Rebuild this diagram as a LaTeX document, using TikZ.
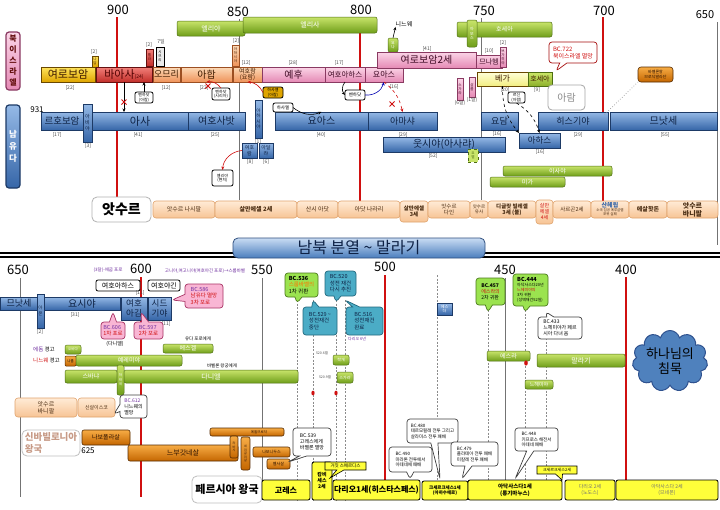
\documentclass[tikz,border=0pt]{standalone}
\usepackage{fontspec}
\setmainfont{Noto Sans CJK KR}
\usetikzlibrary{arrows.meta,shapes.callouts,shapes.symbols,shapes.geometric}
\definecolor{jbA}{HTML}{95B9E6}\definecolor{jbB}{HTML}{3666A8}\definecolor{jbD}{HTML}{1D3A66}\definecolor{jbT}{HTML}{0E2244}
\definecolor{pkA}{HTML}{FBD5E7}\definecolor{pkB}{HTML}{E58AB5}\definecolor{pkD}{HTML}{8A3A62}\definecolor{pkT}{HTML}{3E0A24}
\definecolor{orA}{HTML}{FCDAB8}\definecolor{orB}{HTML}{EF935A}\definecolor{orD}{HTML}{9C4F22}\definecolor{orT}{HTML}{3F1C00}
\definecolor{gdA}{HTML}{FFE45C}\definecolor{gdB}{HTML}{DFA500}\definecolor{gdD}{HTML}{6A4800}
\definecolor{rdA}{HTML}{F2807A}\definecolor{rdB}{HTML}{C22F2A}\definecolor{rdD}{HTML}{651010}\definecolor{rdT}{HTML}{4E0000}
\definecolor{grA}{HTML}{C8E46A}\definecolor{grB}{HTML}{6F9E1A}\definecolor{grD}{HTML}{4E6E12}
\definecolor{asA}{HTML}{FFEBD6}\definecolor{asB}{HTML}{F7C495}\definecolor{asD}{HTML}{E0A36C}\definecolor{asT}{HTML}{4B2E14}
\definecolor{pyel}{HTML}{FFFF3A}
\definecolor{bbA}{HTML}{F7AC45}\definecolor{bbB}{HTML}{C46600}\definecolor{bbD}{HTML}{552A00}\definecolor{bbT}{HTML}{2A1000}
\definecolor{pyA}{HTML}{FFFFD8}\definecolor{pyB}{HTML}{F2EE82}
\definecolor{lmA}{HTML}{CDE86A}\definecolor{lmB}{HTML}{8CB02A}
\definecolor{cyF}{HTML}{4BACC6}\definecolor{cyD}{HTML}{23697E}
\definecolor{lgF}{HTML}{9BE34F}\definecolor{lgD}{HTML}{4C7A1C}
\definecolor{pcF}{HTML}{F9B6D4}\definecolor{pcD}{HTML}{A83264}
\definecolor{bnA}{HTML}{C9DCF3}\definecolor{bnB}{HTML}{4A7DBD}\definecolor{bnD}{HTML}{2E4E7E}\definecolor{bnT}{HTML}{0E2246}
\definecolor{redL}{HTML}{D01010}\definecolor{purp}{HTML}{7030A0}
\definecolor{cloudF}{HTML}{4F81BD}\definecolor{cloudD}{HTML}{2F528F}
\definecolor{nbT}{HTML}{C79A86}
\tikzset{
 fs/.style 2 args={font=\fontsize{#1}{#2}\selectfont},
 fsb/.style 2 args={font=\fontsize{#1}{#2}\selectfont\bfseries},
 base/.style={inner sep=0pt,outer sep=0pt,align=center},
 judah/.style={base,draw=jbD,line width=0.6pt,top color=jbA,bottom color=jbB,text=jbT},
 isr/.style={base,draw=pkD,line width=0.6pt,top color=pkA,bottom color=pkB,text=pkT},
 orng/.style={base,draw=orD,line width=0.6pt,top color=orA,bottom color=orB,text=orT},
 goldb/.style={base,draw=gdD,line width=0.6pt,top color=gdA,bottom color=gdB,text=orT},
 redb/.style={base,draw=rdD,line width=0.6pt,top color=rdA,bottom color=rdB,text=rdT},
 paley/.style={base,draw=gdD,line width=0.6pt,top color=pyA,bottom color=pyB,text=orT},
 lime/.style={base,draw=grD,line width=0.6pt,top color=lmA,bottom color=lmB,text=orT},
 prop/.style={base,draw=grD,line width=0.5pt,rounded corners=2pt,top color=grA,bottom color=grB,text=white},
 assy/.style={base,draw=asD,line width=0.6pt,rounded corners=3pt,top color=asA,bottom color=asB,text=asT},
 pers/.style={base,draw=black,line width=0.8pt,rounded corners=2pt,fill=pyel,text=black},
 babo/.style={base,draw=bbD,line width=0.6pt,rounded corners=2pt,top color=bbA,bottom color=bbB,text=bbT},
 wbox/.style={base,draw=black,line width=0.8pt,rounded corners=2pt,fill=white,text=black},
 call/.style={base,rectangle callout,rounded corners=3pt,line width=0.7pt,align=left},
 wcall/.style={call,draw=black!75,fill=white,text=black},
 gcall/.style={call,draw=lgD,fill=lgF,text=black},
 ccall/.style={call,draw=cyD,fill=cyF,text=jbT},
 pcall/.style={call,draw=pcD,fill=pcF,text=redL},
 ptr/.style={callout absolute pointer={#1}},
 num/.style={inner sep=0pt,fs={5}{5},text=black!70},
 yr/.style={inner sep=0pt,fs={13}{13},text=black},
 redln/.style={draw=redL,line width=1.3pt},
 grayln/.style={draw=black!55,line width=0.6pt},
 dashln/.style={draw=black!45,line width=0.5pt,dash pattern=on 2pt off 1.5pt},
 arr/.style={-{Stealth[length=3.5pt,width=3pt]},line width=0.6pt},
}
\newcommand\kb[7]{\node[#6,minimum width={(#4-#2)*1pt},minimum height={(#5-#3)*1pt}] (#1) at ({(#2+#4)/2},{(#3+#5)/2}) {#7};}
\newcommand\redx[2]{\draw[redL,line width=1pt] (#1-2.5,#2-2.5) -- (#1+2.5,#2+2.5) (#1-2.5,#2+2.5) -- (#1+2.5,#2-2.5);}
\begin{document}
\begin{tikzpicture}[x=1pt,y=-1pt]
\useasboundingbox (0,0) rectangle (720,509);
\fill[white] (0,0) rectangle (720,509);
% ---------------- top timeline ----------------
\node[yr] (t900) at (118,10) {900};
\node[yr] (t850) at (238,12) {850};
\node[yr] (t800) at (361,10) {800};
\node[yr] (t750) at (484,11) {750};
\node[yr] (t700) at (604,11) {700};
\node[yr,fs={11}{11}] (t650) at (705,15) {650};
\draw[redln] (117,17) -- (117,222);
\draw[grayln] (239,19) -- (239,200);
\draw[redln] (360,17) -- (360,202);
\draw[grayln] (481,18) -- (481,200);
\draw[redln,line width=2.2pt] (603,17) -- (603,205);
\draw[grayln] (717,22) -- (717,245);
\kb{nisr}{6}{32}{20}{90}{base,draw=pkD,line width=1.2pt,rounded corners=3pt,top color=pkA,bottom color=pkB,text=rdD,fsb={8}{11}}{북\\이\\스\\라\\엘}
\kb{sjud}{6}{105}{20}{188}{judah,line width=1.2pt,rounded corners=3pt,text=white,fsb={8.5}{12}}{남\\유\\다}
\node[inner sep=0pt,fs={8}{8}] (y931) at (37,110) {931};
% prophets (top)
\kb{elijah}{177}{21}{245}{36}{prop,fs={7}{7}}{엘리야}
\kb{elisha}{243}{17}{377}{33}{prop,fs={7}{7}}{엘리사}
\kb{jonah}{388}{38}{398}{52}{prop,fs={4}{4.5}}{요\\나}
\node[inner sep=0pt,fs={6}{6}] (nineveh) at (404,24) {니느웨};
\draw[arr] (jonah.north) -- (nineveh.south west);
\kb{hosea}{457}{22}{552}{37}{prop,fs={6}{6}}{호세아}
\kb{amos}{467}{20}{477}{47}{prop,fs={4}{4.5}}{아\\모\\스}
% Israel kings
\kb{nadab}{92}{56}{98}{67}{goldb,fs={3.5}{4}}{나\\답}
\kb{elah}{146}{49}{153}{66}{redb,fs={3.5}{4}}{엘\\라}
\kb{zimri}{156}{47}{164}{66}{base,draw=black,line width=0.6pt,fill=black!8,fs={3.5}{4}}{시\\므\\리}
\kb{ahaziahI}{232}{45}{239}{66}{orng,fs={3.5}{4}}{아\\하\\시\\야}
\kb{jeroboam}{41}{67}{95}{82}{goldb,fs={11}{11}}{여로보암}
\kb{baasha}{96}{67}{152}{82}{redb,fs={11}{11}}{바아사{\fontsize{5}{5}\selectfont(24)}}
\kb{omri}{153}{67}{180}{82}{orng,fs={9}{9}}{오므리}
\kb{ahab}{181}{67}{232}{82}{orng,fs={10}{10}}{아합}
\kb{joram}{233}{67}{262}{82}{orng,fs={6}{6.5}}{여호람\\(요람)}
\kb{jehu}{262}{67}{325}{82}{isr,fs={10}{10}}{예후}
\kb{jehoahazI}{325}{67}{365}{82}{isr,fs={7.5}{7.5}}{여호아하스}
\kb{joashI}{365}{67}{403}{82}{isr,fs={8}{8}}{요아스}
\kb{jeroboamII}{377}{52}{476}{68}{isr,fs={10}{10}}{여로보암2세}
\kb{menahem}{476}{55}{502}{68}{isr,fs={7}{7}}{므나헴}
\kb{zechariah}{457}{78}{463}{100}{isr,fs={3.5}{4}}{스\\가\\랴}
\kb{shallum}{469}{77}{475}{97}{isr,fs={3.5}{4}}{살\\룸}
\kb{pekahiah}{500}{47}{506}{67}{isr,fs={3.5}{4}}{브\\가\\히\\야}
\kb{pekah}{477}{72}{528}{86}{paley,fs={8}{8}}{베가}
\kb{hoshea}{528}{72}{552}{86}{lime,fs={7}{7}}{호세아}
\node[num] (n1) at (94,52) {[2]};
\node[num] (n2) at (149,45) {[2]};
\node[num] (n3) at (161,42) {7일};
\node[num] (n4) at (236,41) {[2]};
\node[num] (n5) at (70,88) {[22]};
\node[num] (n6) at (166,88) {[12]};
\node[num] (n7) at (204,88) {[22]};
\node[num] (n8) at (246,63) {[12]};
\node[num] (n9) at (293,63) {[28]};
\node[num] (n10) at (339,63) {[17]};
\node[num] (n11) at (394,87) {[16]};
\node[num] (n12) at (427,49) {[41]};
\node[num] (n13) at (489,51) {[10]};
\node[num] (n14) at (503,43) {[2]};
\node[num] (n15) at (505,90) {[20]};
\node[num] (n16) at (537,90) {[9]};
\node[num] (n17) at (460,103) {(6달)};
\node[num] (n18) at (472,100) {(1달)};
% Judah kings
\kb{abijah}{83}{104}{92}{142}{judah,fs={5}{6}}{아\\비\\야}
\kb{rehoboam}{41}{112}{83}{130}{judah,fs={9.5}{9.5}}{르호보암}
\kb{asa}{92}{112}{188}{130}{judah,fs={11}{11}}{아사}
\kb{jehoshaphat}{188}{112}{245}{130}{judah,fs={10}{10}}{여호사밧}
\kb{ahaziahJ}{255}{100}{262}{138}{judah,fs={4.5}{5.5}}{아\\하\\시\\야}
\kb{jehoramJ}{242}{143}{257}{158}{judah,fs={5}{5.5}}{여호\\람}
\kb{athaliah}{259}{143}{273}{158}{judah,fs={5}{5.5}}{아달\\랴}
\kb{joashJ}{275}{112}{368}{130}{judah,fs={10}{10}}{요아스}
\kb{amaziah}{368}{112}{437}{130}{judah,fs={9}{9}}{아마샤}
\kb{uzziah}{383}{137}{505}{152}{judah,fs={10}{10}}{웃시야(아사랴)}
\kb{jotham}{481}{112}{518}{130}{judah,fs={9}{9}}{요담}
\kb{ahaz}{519}{133}{560}{148}{judah,fs={8.5}{8.5}}{아하스}
\kb{hezekiah}{538}{112}{608}{130}{judah,fs={9}{9}}{히스기야}
\kb{manassehT}{610}{112}{717}{130}{judah,fs={10}{10}}{므낫세}
\node[num] (m1) at (57,135) {[17]};
\node[num] (m2) at (88,146) {[3]};
\node[num] (m3) at (138,135) {[41]};
\node[num] (m4) at (215,135) {[25]};
\node[num] (m5) at (250,162) {[8]};
\node[num] (m6) at (266,162) {[6]};
\node[num] (m7) at (258,142) {[1]};
\node[num] (m8) at (321,135) {[40]};
\node[num] (m9) at (403,135) {[29]};
\node[num] (m10) at (433,156) {[52]};
\node[num] (m11) at (497,134) {[16]};
\node[num] (m12) at (540,152) {[16]};
\node[num] (m13) at (578,135) {[29]};
\node[num] (m14) at (665,135) {[55]};
% other prophets top
\kb{joel}{468}{149}{478}{162}{base,draw=grD,dashed,line width=0.6pt,fill=grA,fs={3.5}{4},text=grD}{요\\엘}
\kb{isaiah}{503}{166}{612}{176}{prop,fs={6}{6}}{이사야}
\kb{micah}{490}{177}{565}{187}{prop,fs={6}{6}}{미가}
% small boxes and relations
\kb{benA}{135}{92}{153}{103}{wbox,fs={4}{4.5}}{벤하닷\\(아람)}
\kb{benB}{212}{88}{230}{100}{wbox,fs={4}{4.5}}{벤하닷\\(시리아)}
\kb{benC}{345}{90}{365}{100}{wbox,fs={4.5}{5}}{벤하닷}
\kb{hazael}{273}{103}{293}{112}{wbox,fs={4.5}{5}}{하사엘}
\kb{hazaelY}{263}{87}{283}{98}{base,draw=black,line width=0.8pt,rounded corners=2pt,fill=gdB,fs={4}{4.5}}{하사엘\\(아람)}
\kb{rezin}{508}{92}{525}{103}{wbox,fs={4}{4.5}}{르신\\(아람)}
\kb{elletter}{212}{170}{233}{186}{wbox,fs={4}{4.5}}{엘리야\\(편지)}
\draw[arr] (baasha.south) -- (baasha.south |- asa.north);
\redx{124}{102}
\draw[arr] (benA.north) -- (benA.north |- baasha.south);
\draw[arr,redL] (benB.north) to[bend right=30] (ahab.south);
\redx{208}{86}
\draw[arr,redL] (jehoramJ.west) to[bend right=40] (elletter.north);
\draw[arr] (jehoahazI.south) to[bend right=40] (benC.west);
\draw[arr,blue!70!black] (benC.east) to[bend right=40] (joashI.south);
\draw[arr,redL,dashed] (joashI.south) to[bend left=20] (amaziah.north);
\redx{392}{104}
\draw[arr,redL] (hazaelY.west) to[bend right=30] (joram.south);
\draw[arr] (hazael.east) to[bend right=30] (joashJ.north);
\draw[arr,dashed] (pekah.south) to[bend right=20] (ahaz.north west);
\draw[arr,dashed] (rezin.south) to[bend left=20] (ahaz.north);
\kb{bc722}{549}{42}{597}{63}{call,ptr={(556,71)},draw=redL!80!black,fill=white,text=redL,fs={6}{7}}{BC.722\\북이스라엘 멸망}
\kb{aram}{548}{85}{585}{110}{base,draw=black!35,line width=0.8pt,rounded corners=4pt,fill=white,text=black!45,fs={10}{10}}{\itshape 아람}
\kb{merodach}{638}{67}{673}{82}{babo,rounded corners=3pt,fs={4}{4.5}}{바벨론왕\\므로닥발라단}
\draw[black!40,dotted,line width=0.7pt] (merodach.south west) -- (604,115);
% Assyria
\kb{assyria}{92}{197}{151}{222}{base,draw=black!30,line width=0.8pt,rounded corners=5pt,fill=white,text=black,fsb={14}{14}}{앗수르}
\kb{a1}{153}{201}{215}{218}{assy,fs={6}{6}}{앗수르 나시팔}
\kb{a2}{215}{201}{297}{218}{assy,fsb={6}{6}}{살만에셀 2세}
\kb{a3}{297}{201}{338}{218}{assy,fs={6}{6}}{산시 아닷}
\kb{a4}{338}{201}{400}{218}{assy,fs={6}{6}}{아닷 나라리}
\kb{a5}{400}{201}{428}{222}{assy,fsb={5.5}{6.5}}{살만에셀\\3세}
\kb{a6}{428}{201}{470}{218}{assy,fs={5.5}{6.5}}{앗수르\\다인}
\kb{a7}{470}{201}{488}{218}{assy,fs={4.5}{5.5}}{앗수르\\유사}
\kb{a8}{488}{201}{536}{218}{assy,fsb={5.5}{6.5}}{디글랏 빌레셀\\3세 (불)}
\kb{a9}{536}{200}{553}{224}{assy,fs={5}{6},text=redL}{살만\\에셀\\4세}
\kb{a10}{553}{201}{591}{218}{assy,fs={5.5}{6}}{사르곤2세}
\kb{a11}{591}{201}{629}{218}{assy,fs={3.5}{4}}{{\fontsize{6}{7}\selectfont\bfseries\color{jbB}산헤립}\\소국 침공 예루살렘\\포위 실패}
\kb{a12}{629}{201}{667}{218}{assy,fsb={6}{6}}{에살핫돈}
\kb{a13}{667}{201}{718}{218}{assy,fsb={7}{8}}{앗수르\\바니팔}
% divider + banner
\draw[line width=1.6pt] (0,253) -- (720,253);
\draw[line width=1.2pt] (0,257) -- (720,257);
\kb{banner}{233}{238}{485}{258}{base,draw=bnD,line width=0.8pt,rounded corners=5pt,top color=bnA,bottom color=bnB,text=bnT,fs={16}{16}}{남북 분열 \textasciitilde{} 말라기}
% ---------------- bottom timeline ----------------
\node[yr] (b650) at (18,270) {650};
\node[yr] (b600) at (141,269) {600};
\node[yr] (b550) at (262,270) {550};
\node[yr] (b500) at (385,267) {500};
\node[yr] (b450) at (505,270) {450};
\node[yr] (b400) at (626,270) {400};
\draw[grayln] (20,278) -- (20,497);
\draw[redln] (141,277) -- (141,497);
\draw[grayln] (262,278) -- (262,500);
\draw[redln] (385,275) -- (385,500);
\draw[grayln] (505,278) -- (505,500);
\draw[redln] (626,277) -- (626,498);
\draw[dashln] (297,300) -- (297,500);
\draw[dashln] (313,300) -- (313,500);
\draw[dashln] (336,300) -- (336,500);
\draw[dashln] (345,300) -- (345,500);
\draw[dashln] (437,275) -- (437,500);
\draw[dashln] (488,310) -- (488,500);
\draw[dashln] (525,310) -- (525,500);
\draw[dashln] (546,338) -- (546,500);
\node[inner sep=0pt,fs={4.5}{4.5},text=purp] (tx1) at (108,270) {(3달)-애굽 포로};
\node[inner sep=0pt,fs={4.5}{4.5},text=purp] (tx2) at (205,271) {고니야,여고니야(여호야긴 포로)→스룹바벨};
% Judah (bottom)
\kb{manassehB}{0}{297}{38}{310}{judah,fs={9}{9}}{므낫세}
\kb{amon}{37}{294}{44}{328}{judah,fs={4.5}{6}}{아\\몬}
\kb{josiah}{44}{297}{120}{310}{judah,fs={10}{10}}{요시야}
\kb{jehoiakim}{121}{297}{147}{320}{judah,fs={8.5}{9.5}}{여호\\아김}
\kb{zedekiah}{148}{297}{171}{320}{judah,fs={8.5}{9.5}}{시드\\기야}
\kb{jehoahazJ}{96}{280}{140}{291}{wbox,fs={7}{7}}{여호아하스}
\kb{jehoiachin}{148}{280}{180}{291}{wbox,fs={7}{7}}{여호야긴}
\node[num] (k1) at (75,315) {[31]};
\node[num] (k2) at (40,332) {[2]};
\node[num] (k3) at (140,293) {[11]};
\node[num] (k4) at (166,324) {[11]};
\kb{bcsixeightsix}{185}{284}{223}{308}{pcall,ptr={(172,300)},fs={5.5}{6.5}}{{\color{purp}BC.586}\\남유다 멸망\\3차 포로}
\kb{bcsixosix}{101}{322}{125}{339}{pcall,ptr={(113,312)},fs={5.5}{6.5}}{{\color{purp}BC.606}\\1차 포로}
\kb{bcfivenine}{134}{322}{163}{339}{pcall,ptr={(141,312)},fs={5.5}{6.5}}{{\color{purp}BC.597}\\2차 포로}
\node[inner sep=0pt,fs={5}{5}] (dan) at (115,344) {(다니엘)};
\node[inner sep=0pt,fs={5.5}{5.5},anchor=west] (edom) at (33,349) {{\color{purp}에돔} 경고};
\node[inner sep=0pt,fs={5.5}{5.5},anchor=west,text=redL] (ninw) at (33,360) {니느웨 {\color{black}경고}};
% prophets (bottom)
\kb{obadiah}{65}{345}{81}{354}{prop,fs={3.5}{4}}{오바댜}
\kb{nahum}{65}{356}{76}{366}{base,draw=bbD,line width=0.5pt,rounded corners=1pt,top color=bbA,bottom color=bbB,fs={3.5}{4}}{나훔}
\kb{jeremiah}{76}{355}{182}{366}{prop,fs={6}{6}}{예레미야}
\kb{ezekiel}{163}{344}{213}{353}{prop,fs={6}{6}}{에스겔}
\kb{zephaniah}{65}{370}{117}{383}{prop,fs={6}{6}}{스바냐}
\kb{habakkuk}{117}{365}{124}{395}{prop,fs={3.5}{4.5}}{하\\박\\국}
\kb{daniel}{124}{370}{298}{383}{prop,fs={7}{7}}{다니엘}
\kb{haggai}{333}{355}{349}{365}{prop,fs={4}{4}}{학개}
\kb{zechP}{337}{372}{353}{383}{prop,fs={4}{4}}{스가랴}
\kb{ezra}{487}{351}{530}{361}{prop,fs={6}{6}}{에스라}
\kb{malachi}{537}{354}{625}{367}{prop,fs={7}{7}}{말라기}
\kb{nehemiah}{525}{380}{553}{389}{prop,fs={5}{5}}{느헤미야}
\node[inner sep=0pt,fs={4.5}{4.5}] (ex1) at (198,339) {유다 포로에게};
\node[inner sep=0pt,fs={4.5}{4.5}] (ex2) at (222,366) {바벨론 왕궁에게};
\node[inner sep=0pt,fs={3.5}{3.5},text=black!70] (ex3) at (322,353) {520.6월};
\node[inner sep=0pt,fs={3.5}{3.5},text=black!70] (ex4) at (325,377) {520.9월};
\fill[redL] (313,393) ellipse (1.6pt and 2.4pt);
\fill[redL] (336,393) ellipse (1.6pt and 2.4pt);
\fill[redL] (526,363) ellipse (1.8pt and 2.6pt);
% callouts (bottom)
\kb{bcfivethreesix}{285}{273}{318}{297}{gcall,ptr={(297,303)},fs={5.5}{6.5}}{\textbf{BC.536}\\{\color{orange!90!red}스룹바벨의}\\1차 귀환}
\kb{bcfivetwenty}{325}{271}{356}{296}{ccall,ptr={(336,302)},fs={5.5}{6.5}}{BC.520\\성전 재건\\다시 추진}
\kb{bcfivetwonine}{303}{307}{337}{335}{ccall,ptr={(313,300)},fs={5.5}{6.5}}{BC.529 \textasciitilde\\성전재건\\중단}
\kb{bcfiveonesix}{346}{307}{383}{335}{ccall,ptr={(345,300)},fs={5.5}{6.5}}{BC.516\\성전재건\\완료}
\node[inner sep=0pt,fs={4}{4.5},text=purp,align=left,anchor=north west] (dar6) at (348,337) {다리오 6년};
\kb{esther}{437}{303}{452}{315}{judah,fs={4}{4.5},text=white}{에스\\더}
\kb{bcfourfiveseven}{476}{278}{505}{305}{gcall,ptr={(488,312)},fs={5}{6}}{\textbf{BC.457}\\{\color{redL}에스라의}\\2차 귀환}
\kb{bcfourfourfour}{513}{274}{548}{306}{gcall,ptr={(525,312)},fs={4}{5}}{{\fontsize{5.5}{6}\selectfont\bfseries BC.444}\\아닥사스다20년\\{\color{redL}느헤미야의}\\3차 귀환\\(성벽재건52일)}
\kb{bcfourthreethree}{538}{317}{582}{339}{wcall,ptr={(546,312)},fs={5}{6}}{BC.433\\느헤미야가 페르\\시아 다녀 옴}
\node[cloud,cloud puffs=11,aspect=1.4,draw=cloudD,line width=1pt,fill=cloudF,minimum width=72pt,minimum height=50pt,inner sep=0pt,align=center,text=black,fs={13}{15}] (silence) at (670,361) {하나님의\\침묵};
% bottom-left empires
\kb{ashurb}{15}{398}{77}{417}{assy,fs={6}{7}}{앗수르\\바니팔}
\kb{sinshar}{78}{398}{115}{417}{assy,fs={5}{5}}{신살이스코}
\kb{bcsixtwelve}{120}{395}{147}{418}{wcall,ptr={(114,414)},fs={5}{6}}{{\color{purp}BC.612}\\니느웨의\\멸망}
\kb{neobab}{22}{430}{80}{456}{base,draw=black!25,line width=0.8pt,rounded corners=5pt,fill=white,text=nbT,align=left,fsb={9.5}{12}}{신바빌로니아\\왕국}
\node[inner sep=0pt,fs={8}{8}] (y625) at (88,451) {625};
\kb{nabopolassar}{82}{430}{130}{445}{babo,fs={6}{6}}{나보폴라살}
\kb{nebuchad}{128}{445}{238}{461}{babo,fs={7}{7}}{느부갓네살}
\kb{evilm}{210}{428}{284}{436}{babo,fs={3.5}{3.5}}{\hspace{24pt}에윌므로닥}
\kb{labashi}{230}{436}{238}{458}{babo,fs={3}{3.5}}{라\\바\\시}
\kb{neriglissar}{241}{437}{250}{470}{babo,fs={3}{3.5}}{네\\리\\글\\리\\살}
\kb{nabonidus}{253}{447}{290}{457}{babo,fs={4}{4}}{나보니두스}
\kb{belshazzar}{267}{459}{290}{469}{babo,fs={4}{4}}{벨사살}
\kb{persia}{192}{476}{262}{503}{base,draw=black!25,line width=0.8pt,rounded corners=5pt,fill=white,text=black,fsb={11}{11}}{페르시아 왕국}
\kb{bcfivethreenine}{293}{428}{331}{456}{wcall,ptr={(288,462)},fs={5}{6}}{BC.539\\고레스에게\\바벨론 멸망}
\kb{cyrus}{262}{480}{310}{500}{pers,fsb={8}{8}}{고레스}
\kb{cambyses}{312}{462}{332}{500}{pers,fsb={5}{6}}{캄비\\세스\\2세}
\kb{smerdis}{325}{462}{366}{470}{base,rectangle callout,ptr={(330,478)},draw=black,line width=0.6pt,fill=pyel,fs={4.5}{4.5}}{거짓 스메르디스}
\kb{dariusI}{333}{480}{420}{500}{pers,fsb={8}{8}}{다리오1세(히스타스페스)}
\kb{bcfourninety}{389}{447}{432}{472}{wcall,ptr={(410,479)},fs={4.5}{5.5}}{BC.490\\마라톤 전투에서\\아테네에 패배}
\kb{bcfoureighty}{407}{419}{458}{443}{wcall,ptr={(440,479)},fs={4.5}{5.5}}{BC.480\\테르모필레 전투 그리고\\살라미스 전투 패배}
\kb{bcfourseventynine}{451}{442}{498}{466}{wcall,ptr={(462,479)},fs={4.5}{5.5}}{BC.479\\플라테아 전투 패배\\미칼레 전투 패배}
\kb{xerxesI}{422}{481}{468}{500}{pers,fsb={4.5}{5.5}}{크세르크세스1세\\(아하수에로)}
\kb{artaxI}{468}{480}{562}{500}{pers,fsb={5.5}{6.5}}{아닥사스다1세\\(롱기마누스)}
\kb{bcfourfortyeight}{515}{428}{558}{451}{wcall,ptr={(515,479)},fs={4.5}{5.5}}{BC.448\\키프로스 해전서\\아테네 패배}
\kb{xerxesII}{537}{466}{577}{474}{base,rectangle callout,ptr={(562,480)},draw=black,line width=0.6pt,fill=pyel,fs={4}{4}}{크세르크세스2세}
\kb{dariusII}{565}{480}{615}{500}{pers,fs={5}{6},text=black!55}{다리오 2세\\(노도스)}
\kb{artaxII}{616}{480}{718}{500}{pers,fs={5}{6},text=black!55}{아닥사스다 2세\\(므네몬)}
\end{tikzpicture}
\end{document}
